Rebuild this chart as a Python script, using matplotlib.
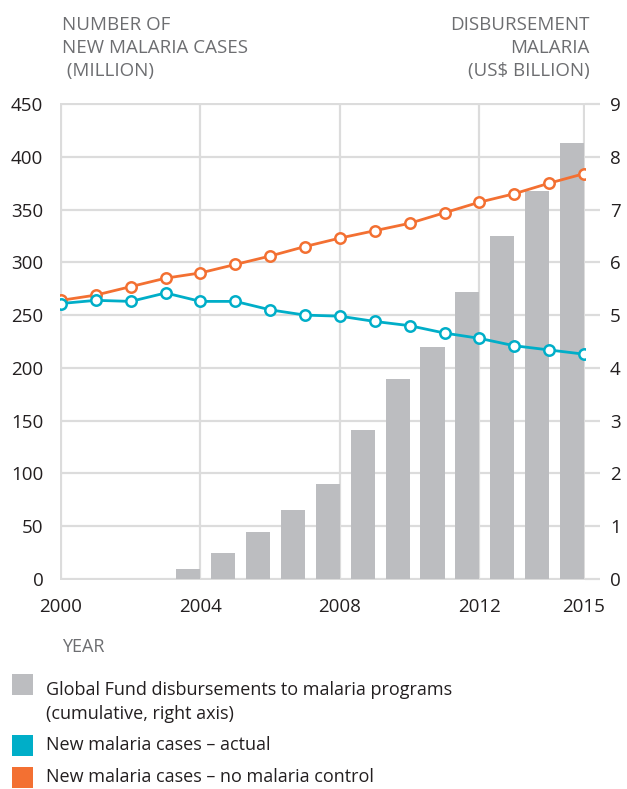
import matplotlib as mpl
import matplotlib.pyplot as plt
from matplotlib.patches import Rectangle

mpl.use("Agg")

years = list(range(2000, 2016))
cases_actual = [261, 264, 263, 271, 263, 263, 255, 250, 249, 244, 240, 233, 228, 221, 217, 213]
cases_no_control = [264, 269, 277, 285, 290, 298, 306, 315, 323, 330, 337, 347, 357, 365, 375, 384]

bar_years = list(range(2004, 2016))
disbursement = [0.19, 0.49, 0.89, 1.31, 1.80, 2.83, 3.78, 4.40, 5.43, 6.49, 7.36, 8.26]

x_ticks = [2000, 2004, 2008, 2012, 2015]
left_ticks = list(range(0, 451, 50))
right_ticks = list(range(0, 10))

legend_labels = [
    "Global Fund disbursements to malaria programs\n(cumulative, right axis)",
    "New malaria cases \u2013 actual",
    "New malaria cases \u2013 no malaria control",
]

ORANGE = "#f37032"
BLUE = "#00aec8"
GREY_BAR = "#bcbdc0"
GRID = "#dcdcdc"
TITLE = "#6d6e71"
INK = "#231f20"

plt.rcParams["font.family"] = ["Open Sans", "DejaVu Sans"]
plt.rcParams["font.size"] = 13

W, H = 627, 789
fig = plt.figure(figsize=(W / 100, H / 100), dpi=100)


def fx(px):
    return px / W


def fy(py):
    return 1 - py / H


# host axes: bars (right axis) + grid
ax = fig.add_axes([fx(60), fy(580), fx(585) - fx(60), fy(103) - fy(580)])
ax_lines = ax.twinx()

ax.bar(bar_years, disbursement, width=-0.69, align="edge", color=GREY_BAR, zorder=2)
ax.set_xlim(2000 - 0.03, 2015 + 0.03)
ax.set_ylim(-0.02, 9.02)
ax.set_xticks(x_ticks)
ax.set_yticks(right_ticks)
ax.grid(True, color=GRID, linewidth=1.6)
ax.set_axisbelow(True)
ax.yaxis.tick_right()
ax.tick_params(axis="y", right=True, left=False, length=11, width=1.6,
               color=GRID, pad=7, labelcolor=INK, labelsize=13.5)
ax.tick_params(axis="x", length=0, pad=13, labelcolor=INK, labelsize=13.5)
for s in ax.spines.values():
    s.set_visible(False)

# lines (left axis)
ax_lines.plot(years, cases_no_control, color=ORANGE, linewidth=2, marker="o",
              markersize=7.5, markerfacecolor="white", markeredgewidth=1.8,
              markeredgecolor=ORANGE, zorder=3)
ax_lines.plot(years, cases_actual, color=BLUE, linewidth=2, marker="o",
              markersize=7.5, markerfacecolor="white", markeredgewidth=1.8,
              markeredgecolor=BLUE, zorder=4)
ax_lines.set_ylim(-1, 451)
ax_lines.set_yticks(left_ticks)
ax_lines.yaxis.tick_left()
ax_lines.tick_params(axis="y", left=False, right=False, pad=8.5,
                     labelcolor=INK, labelsize=13.5)
for s in ax_lines.spines.values():
    s.set_visible(False)

# axis titles
fig.text(fx(62), fy(16), "NUMBER OF\nNEW MALARIA CASES\n (MILLION)", ha="left",
         va="top", color=TITLE, fontsize=13.5, linespacing=1.36)
fig.text(fx(590), fy(16), "DISBURSEMENT\nMALARIA\n(US$ BILLION)", ha="right",
         va="top", color=TITLE, fontsize=13.5, linespacing=1.36,
         multialignment="right")
fig.text(fx(62), fy(647), "YEAR", ha="left", va="center", color=TITLE, fontsize=13)

# legend
legend_colors = [GREY_BAR, BLUE, ORANGE]
legend_y = [674, 735, 767]
for color, y0, label in zip(legend_colors, legend_y, legend_labels):
    fig.add_artist(Rectangle((fx(12), fy(y0 + 21)), fx(21), fy(y0) - fy(y0 + 21),
                             transform=fig.transFigure, color=color, lw=0))
    if "\n" in label:
        fig.text(fx(46), fy(y0 + 23), label, ha="left", va="center_baseline",
                 color=INK, fontsize=13, linespacing=1.45)
    else:
        fig.text(fx(46), fy(y0 + 10), label, ha="left", va="center",
                 color=INK, fontsize=13)

fig.savefig("out.png", dpi=100)
plt.close()
